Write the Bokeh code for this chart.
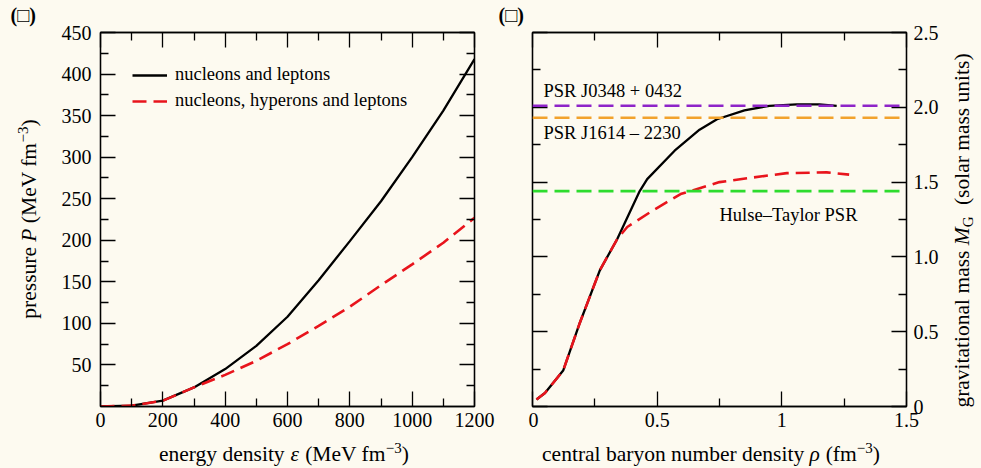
import math
from bokeh.plotting import figure
from bokeh.models import (LinearAxis, FixedTicker, Span, Label, Range1d,
                          GlobalInlineStyleSheet)
from bokeh.layouts import row, column
from bokeh.embed import file_html
from bokeh.resources import INLINE

BG = "#FDFAF0"
FONT = "Liberation Serif"
RED = "#E8141C"

# ---------------- data: panel (a) equation of state ----------------
energy_density = [0, 100, 200, 300, 400, 500, 600, 700, 800, 900, 1000, 1100, 1200]
pressure_nucleons_leptons = [0, 1, 7, 23, 45, 73, 108, 152, 199, 247, 300, 356, 418]
pressure_nucleons_hyperons_leptons = [0, 1, 7, 23, 38, 55, 75, 97, 120, 146, 171, 197, 227]

# ---------------- data: panel (b) mass vs central density ----------------
rho_nucleons_leptons = [0.016, 0.05, 0.123, 0.19, 0.27, 0.34, 0.43, 0.46, 0.57,
                        0.67, 0.74, 0.85, 0.95, 1.06, 1.15, 1.22]
mass_nucleons_leptons = [0.047, 0.09, 0.24, 0.56, 0.91, 1.12, 1.44, 1.52, 1.71,
                         1.85, 1.92, 1.98, 2.01, 2.02, 2.02, 2.01]
rho_nucleons_hyperons_leptons = [0.016, 0.05, 0.123, 0.19, 0.27, 0.34, 0.38, 0.473,
                                 0.594, 0.75, 0.88, 1.02, 1.18, 1.27]
mass_nucleons_hyperons_leptons = [0.047, 0.09, 0.24, 0.56, 0.91, 1.12, 1.20, 1.30,
                                  1.42, 1.50, 1.53, 1.56, 1.565, 1.55]

pulsar_names = ["PSR J0348 + 0432", "PSR J1614 \u2013 2230", "Hulse\u2013Taylor PSR"]
pulsar_masses = [2.01, 1.93, 1.44]
pulsar_colors = ["#8E24C8", "#F2A22C", "#2EDC2E"]
pulsar_label_x = [0.044, 0.044, 0.75]
pulsar_label_y = [2.11, 1.83, 1.28]

panel_tags = ["(\u25a1)", "(\u25a1)"]

# ---------------- ticks ----------------
a_x_major = [0, 200, 400, 600, 800, 1000, 1200]
a_x_minor = [100, 300, 500, 700, 900, 1100]
a_y_major = [50, 100, 150, 200, 250, 300, 350, 400, 450]
a_y_minor = [25, 75, 125, 175, 225, 275, 325, 375, 425]
b_x_major = [0, 0.5, 1, 1.5]
b_x_labels = ["0", "0.5", "1", "1.5"]
b_x_minor = [0.25, 0.75, 1.25]
b_y_major = [0, 0.5, 1, 1.5, 2, 2.5]
b_y_labels = ["0", "0.5", "1.0", "1.5", "2.0", "2.5"]
b_y_minor = [0.25, 0.75, 1.25, 1.75, 2.25]

# ---------------- axis titles (pieces: text, italic, scale, rise) ----------------
MINUS = "\u2212"
title_a_x = [("energy density ", False, 1, 0), ("\u03b5 ", True, 1, 0),
             ("(MeV fm", False, 1, 0), (MINUS + "3", False, 0.7, 0.38),
             (")", False, 1, 0)]
title_a_y = [("pressure ", False, 1, 0), ("P ", True, 1, 0),
             ("(MeV fm", False, 1, 0), (MINUS + "3", False, 0.7, 0.38),
             (")", False, 1, 0)]
title_b_x = [("central baryon number density ", False, 1, 0), ("\u03c1 ", True, 1, 0),
             ("(fm", False, 1, 0), (MINUS + "3", False, 0.7, 0.38),
             (")", False, 1, 0)]
title_b_y = [("gravitational mass ", False, 1, 0), ("M", True, 1, 0),
             ("G   ", False, 0.7, -0.18), ("(solar mass units)", False, 1, 0)]

# Times / Liberation Serif advance widths (per 1000 em)
REG = {' ': 250, '(': 333, ')': 333, 'a': 444, 'b': 500, 'c': 444, 'd': 500,
       'e': 444, 'f': 333, 'g': 500, 'h': 500, 'i': 278, 'k': 500, 'l': 278,
       'm': 778, 'n': 500, 'o': 500, 'p': 500, 'r': 333, 's': 389, 't': 278,
       'u': 500, 'v': 500, 'y': 500, 'M': 889, 'V': 722, 'G': 722, 'P': 556,
       MINUS: 564, '\u03b5': 440, '\u03c1': 500}
ITA = {'P': 611, 'M': 833, '\u03b5': 440, '\u03c1': 500}
for d in "0123456789":
    REG[d] = 500

MID = 0.305  # distance baseline -> em-box middle, in em


def tw(s, italic, size):
    tbl = ITA if italic else REG
    return sum(tbl.get(ch, REG.get(ch, 500)) for ch in s) * size / 1000.0


def total(pieces, size):
    return sum(tw(t, it, size * sc) for t, it, sc, r in pieces)


def place_h(p, pieces, center_x, base_up, size):
    """base_up: baseline height measured upward from the strip bottom."""
    x = center_x - total(pieces, size) / 2
    for t, it, sc, rise in pieces:
        fs = size * sc
        p.add_layout(Label(x=x, y=base_up + rise * size + MID * fs,
                           x_units="screen", y_units="screen", text=t,
                           text_font=FONT, text_font_size=f"{fs:.1f}px",
                           text_font_style="italic" if it else "normal",
                           text_baseline="middle", text_align="left",
                           text_color="black"))
        x += tw(t, it, fs)


def place_v(p, pieces, base_x, center_y, size):
    """Text reading bottom-to-top; base_x: baseline x within the strip."""
    y = center_y - total(pieces, size) / 2
    for t, it, sc, rise in pieces:
        fs = size * sc
        p.add_layout(Label(x=base_x - rise * size - MID * fs, y=y,
                           x_units="screen", y_units="screen", text=t,
                           text_font=FONT, text_font_size=f"{fs:.1f}px",
                           text_font_style="italic" if it else "normal",
                           text_baseline="middle", text_align="left",
                           angle=math.pi / 2, text_color="black"))
        y += tw(t, it, fs)


def add_tag(p, text, x, page_baseline, strip_h):
    p.add_layout(Label(x=x, y=strip_h - page_baseline + MID * 20,
                       x_units="screen", y_units="screen", text=text,
                       text_font=FONT, text_font_size="20px",
                       text_font_style="bold", text_baseline="middle",
                       text_color="black"))


def style_axis(ax, major, minor, labels=None, show=True):
    ax.ticker = FixedTicker(ticks=major, minor_ticks=minor)
    ax.major_tick_in = 15
    ax.major_tick_out = 0
    ax.minor_tick_in = 8
    ax.minor_tick_out = 0
    ax.axis_line_color = "black"
    ax.axis_line_width = 1.3
    ax.major_tick_line_color = "black"
    ax.major_tick_line_width = 1.3
    ax.minor_tick_line_color = "black"
    ax.minor_tick_line_width = 1.3
    ax.major_label_text_font = FONT
    ax.major_label_text_color = "black"
    if show:
        ax.major_label_text_font_size = "20px"
        if labels is not None:
            ax.major_label_overrides = {m: l for m, l in zip(major, labels)}
    else:
        ax.major_label_text_font_size = "1px"
        ax.major_label_standoff = 0
        ax.major_label_overrides = {m: "" for m in major}


def make_fig(xr, yr, bl, br):
    p = figure(frame_width=374, frame_height=374, x_range=xr, y_range=yr,
               output_backend="svg", toolbar_location=None,
               min_border_left=bl, min_border_right=br,
               min_border_top=32, min_border_bottom=34,
               background_fill_color=BG, border_fill_color=BG,
               x_axis_location=None, y_axis_location=None)
    p.grid.visible = False
    p.outline_line_color = "black"
    p.outline_line_width = 1.3
    return p


def strip(w, h):
    s = figure(frame_width=w, frame_height=h, x_range=Range1d(0, 1),
               y_range=Range1d(0, 1), output_backend="svg",
               toolbar_location=None, min_border=0,
               x_axis_location=None, y_axis_location=None,
               background_fill_color=BG, border_fill_color=BG)
    s.grid.visible = False
    s.outline_line_color = None
    if "frame_align" in s.properties():
        s.frame_align = False
    return s


TS = 21.5  # axis title font size
H = 440    # height of the panel row (page y 0..440)

# ================= panel (a) : page x 55..496 =================
p1 = make_fig(Range1d(0, 1200), Range1d(0, 450), 45, 22)

ax_b = LinearAxis()
style_axis(ax_b, a_x_major, a_x_minor)
ax_b.major_label_standoff = 6
p1.add_layout(ax_b, "below")

ax_l = LinearAxis()
style_axis(ax_l, a_y_major, a_y_minor)
ax_l.major_label_standoff = 9
p1.add_layout(ax_l, "left")

ax_t = LinearAxis()
style_axis(ax_t, a_x_major, a_x_minor, show=False)
p1.add_layout(ax_t, "above")
ax_r = LinearAxis()
style_axis(ax_r, a_y_major, a_y_minor, show=False)
p1.add_layout(ax_r, "right")

p1.line(energy_density, pressure_nucleons_leptons, line_color="black",
        line_width=2.3, legend_label="nucleons and leptons")
p1.line(energy_density, pressure_nucleons_hyperons_leptons, line_color=RED,
        line_width=2.6, line_dash="14 7",
        legend_label="nucleons, hyperons and leptons")

lg = p1.legend[0]
lg.location = "top_left"
lg.margin = 32
lg.padding = 9
lg.spacing = 5
lg.glyph_width = 35
lg.glyph_height = 20
lg.label_height = 20
lg.label_standoff = 8
lg.label_text_font = FONT
lg.label_text_font_size = "18.5px"
lg.label_text_color = "black"
lg.background_fill_alpha = 0
lg.border_line_color = None

# ================= panel (b) : page x 528..946 =================
p2 = make_fig(Range1d(0, 1.5), Range1d(0, 2.5), 4, 40)

bx_b = LinearAxis()
style_axis(bx_b, b_x_major, b_x_minor, labels=b_x_labels)
bx_b.major_label_standoff = 6
p2.add_layout(bx_b, "below")

by_r = LinearAxis()
style_axis(by_r, b_y_major, b_y_minor, labels=b_y_labels)
by_r.major_label_standoff = 7
p2.add_layout(by_r, "right")

bx_t = LinearAxis()
style_axis(bx_t, b_x_major, b_x_minor, show=False)
p2.add_layout(bx_t, "above")
by_l = LinearAxis()
style_axis(by_l, b_y_major, b_y_minor, show=False)
p2.add_layout(by_l, "left")

p2.line(rho_nucleons_leptons, mass_nucleons_leptons, line_color="black",
        line_width=2.3)
p2.line(rho_nucleons_hyperons_leptons, mass_nucleons_hyperons_leptons,
        line_color=RED, line_width=2.6, line_dash="14 7")

for name, m, c, lx, ly in zip(pulsar_names, pulsar_masses, pulsar_colors,
                              pulsar_label_x, pulsar_label_y):
    p2.add_layout(Span(location=m, dimension="width", line_color=c,
                       line_width=2.6, line_dash="15 7"))
    p2.add_layout(Label(x=lx, y=ly, text=name, text_font=FONT,
                        text_font_size="18.5px", text_baseline="middle",
                        text_color="black"))

# ================= text strips around the panels =================
# left strip: page x 0..55, y 0..440 : tag (a) and y title of panel (a)
left = strip(55, H)
add_tag(left, panel_tags[0], 10, 21, H)
place_v(left, title_a_y, 35, H - 218.5, TS)

# middle strip: page x 496..528 : tag (b)
mid = strip(32, H)
add_tag(mid, panel_tags[1], 2, 21, H)

# right strip: page x 946..979 : y title of panel (b), baseline at page x 968
right = strip(33, H)
place_v(right, title_b_y, 968 - 946, H - 230, TS)

# bottom strip: page y 440..466 ; baselines at page y 460
bottom = strip(979, 26)
place_h(bottom, title_a_x, 283.5, 466 - 460, TS)
place_h(bottom, title_b_x, 710.5, 466 - 460, TS)

layout = column(row(left, p1, mid, p2, right), bottom,
                stylesheets=[GlobalInlineStyleSheet(
                    css="html, body { background-color: #FDFAF0; }")])

open("out.html", "w").write(file_html(layout, INLINE))
